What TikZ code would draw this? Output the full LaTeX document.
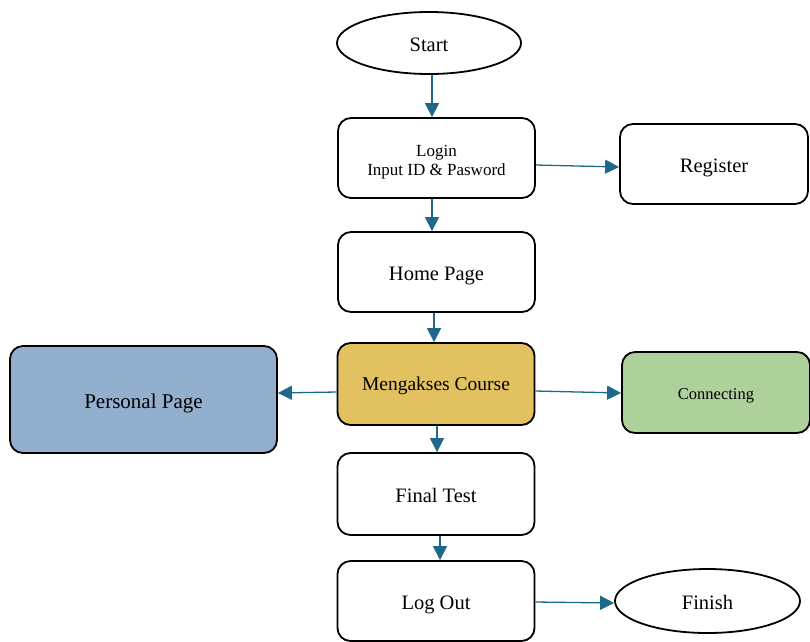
\documentclass[tikz,border=0pt]{standalone}
\usepackage{fontspec}
\setmainfont{Liberation Serif}
\usetikzlibrary{arrows.meta,shapes.geometric}
\definecolor{arrowblue}{RGB}{30,104,138}
\definecolor{ppblue}{RGB}{146,175,205}
\definecolor{mkyellow}{RGB}{226,193,96}
\definecolor{cngreen}{RGB}{174,208,155}
\tikzset{
  box/.style={draw=black, line width=1.8pt, rounded corners=13pt, inner sep=0pt},
  oval/.style={draw=black, line width=1.8pt, ellipse, inner sep=0pt},
  conn/.style={draw=arrowblue, line width=1.3pt, -{Triangle[length=14pt,width=14pt]}},
  big/.style={font=\fontsize{20.5}{22}\selectfont, text height=17.5pt, text depth=0pt}
}
\begin{document}
\begin{tikzpicture}[x=1pt,y=-1pt]
\useasboundingbox (0,0) rectangle (810,641);
\node[oval, big, minimum width=184pt, minimum height=62pt] (start) at (429,43) {Start};
\node[box, minimum width=197pt, minimum height=80pt, font=\fontsize{17}{19}\selectfont, text height=14pt, text depth=17.8pt] (login) at (436.5,158) {\begin{tabular}[t]{@{}c@{}}Login\\Input ID \& Pasword\end{tabular}};
\node[box, big, minimum width=188pt, minimum height=80pt] (register) at (714,164) {Register};
\node[box, big, minimum width=197pt, minimum height=80pt] (home) at (436.5,272) {Home Page};
\node[box, fill=mkyellow, minimum width=197pt, minimum height=82pt, font=\fontsize{19.5}{21}\selectfont, text height=13pt, text depth=0pt] (meng) at (436,384) {Mengakses Course};
\node[box, fill=ppblue, minimum width=267pt, minimum height=107pt, font=\fontsize{21}{23}\selectfont, text height=17pt, text depth=0pt] (personal) at (143.5,399.5) {Personal Page};
\node[box, fill=cngreen, minimum width=188pt, minimum height=81pt, font=\fontsize{16.5}{18}\selectfont, text height=13pt, text depth=0pt] (connecting) at (716,392.5) {Connecting};
\node[box, big, minimum width=197pt, minimum height=82pt] (final) at (436,494) {Final Test};
\node[box, big, minimum width=197pt, minimum height=80pt] (logout) at (436,601) {Log Out};
\node[oval, big, minimum width=185pt, minimum height=64pt] (finish) at (707.5,601) {Finish};

\draw[conn] ([xshift=3pt]start.south) -- ([xshift=-4.5pt]login.north);
\draw[conn] ([yshift=-7pt]login.east) -- ([yshift=-3pt]register.west);
\draw[conn] ([xshift=-4.5pt]login.south) -- ([xshift=-4.5pt]home.north);
\draw[conn] ([xshift=-2.5pt]home.south) -- ([xshift=-2pt]meng.north);
\draw[conn] ([yshift=-8pt]meng.west) -- ([yshift=6.5pt]personal.east);
\draw[conn] ([yshift=-7pt]meng.east) -- ([yshift=-0.5pt]connecting.west);
\draw[conn] ([xshift=1pt]meng.south) -- ([xshift=1pt]final.north);
\draw[conn] ([xshift=4pt]final.south) -- ([xshift=4pt]logout.north);
\draw[conn] ([yshift=-1pt]logout.east) -- ([yshift=-2pt]finish.west);
\end{tikzpicture}
\end{document}
